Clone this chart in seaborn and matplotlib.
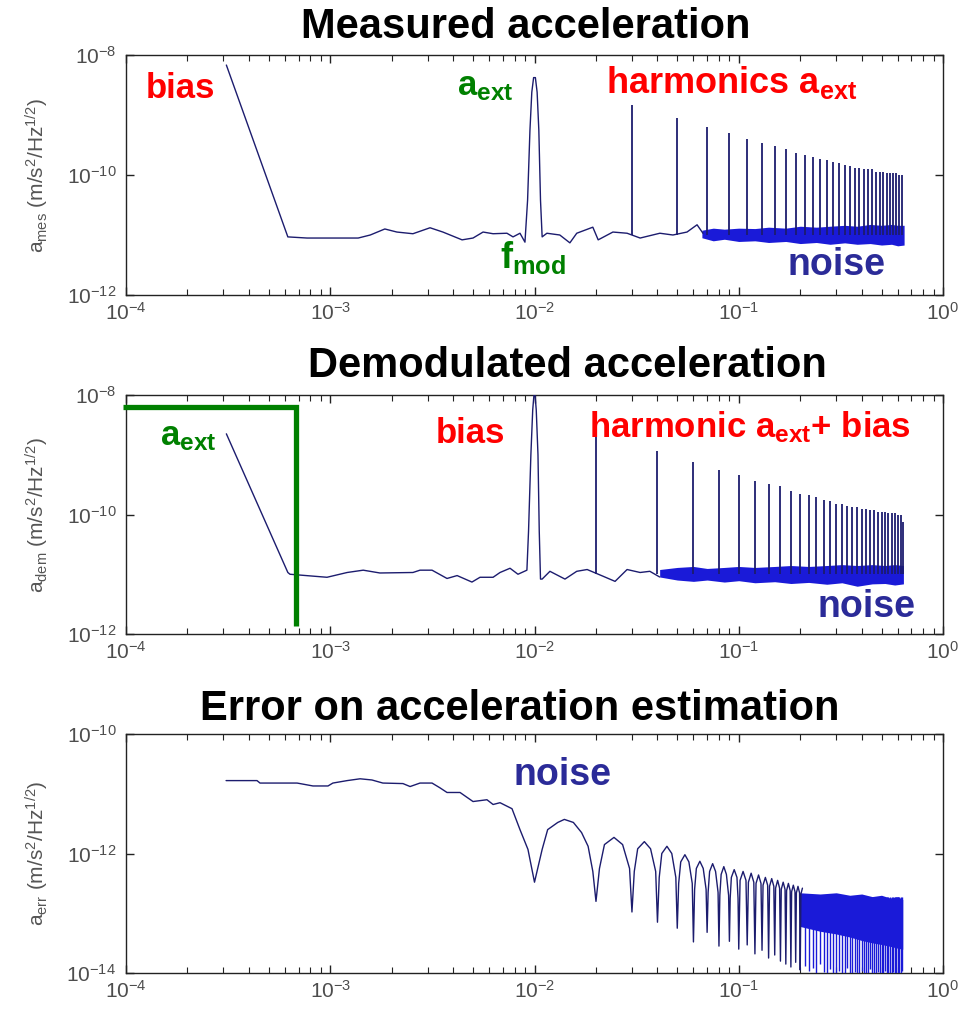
import numpy as np
import matplotlib
matplotlib.use("Agg")
import matplotlib.pyplot as plt
import seaborn as sns
from matplotlib.ticker import FixedLocator, LogLocator, NullLocator, LogFormatterSciNotation

# ---------------- data ----------------
x_ticks = [1e-4, 1e-3, 1e-2, 1e-1, 1e0]

# Panel 1: measured acceleration (noise line incl. f_mod peak)
mes_f = [3.1e-4, 6.2e-4, 7.7e-4, 1.37e-3, 1.57e-3, 1.85e-3, 2.12e-3, 2.54e-3, 3.08e-3, 3.56e-3,
         4.42e-3, 5.0e-3, 5.6e-3, 6.27e-3, 7.33e-3, 7.85e-3, 8.49e-3, 8.98e-3, 9.25e-3, 9.5e-3,
         9.7e-3, 9.9e-3, 1.01e-2, 1.03e-2, 1.05e-2, 1.07e-2, 1.09e-2, 1.15e-2, 1.33e-2, 1.49e-2,
         1.61e-2, 1.93e-2, 2.05e-2, 2.42e-2, 2.84e-2, 3.29e-2, 4.11e-2, 4.76e-2, 5.58e-2, 6.25e-2,
         6.68e-2]
mes_a = [6.8e-9, 9.3e-12, 8.9e-12, 8.9e-12, 1.0e-11, 1.26e-11, 1.12e-11, 1.05e-11, 1.32e-11, 1.12e-11,
         8.3e-12, 8.9e-12, 1.12e-11, 1.05e-11, 1.07e-11, 9.3e-12, 1.07e-11, 7.6e-12, 3.8e-11, 5.6e-10,
         2.4e-9, 4.2e-9, 4.2e-9, 2.4e-9, 5.6e-10, 3.8e-11, 9.3e-12, 1.07e-11, 1.0e-11, 7.4e-12,
         1.07e-11, 1.35e-11, 8.3e-12, 1.12e-11, 1.07e-11, 8.9e-12, 1.07e-11, 1.0e-11, 1.12e-11, 1.48e-11,
         1.07e-11]
mes_harm_f = [0.03, 0.05, 0.07, 0.09, 0.11, 0.13, 0.15, 0.17, 0.19, 0.21, 0.23, 0.25, 0.27, 0.29, 0.31,
              0.33, 0.35, 0.37, 0.39, 0.41, 0.43, 0.45, 0.47, 0.49, 0.51, 0.53, 0.55, 0.57, 0.59, 0.61, 0.63]
mes_harm_a = [1.48e-9, 8.9e-10, 6.3e-10, 5.0e-10, 4.0e-10, 3.4e-10, 3.0e-10, 2.7e-10, 2.35e-10, 2.15e-10,
              2.0e-10, 1.86e-10, 1.78e-10, 1.66e-10, 1.58e-10, 1.48e-10, 1.41e-10, 1.32e-10, 1.32e-10, 1.26e-10,
              1.26e-10, 1.26e-10, 1.12e-10, 1.12e-10, 1.12e-10, 1.1e-10, 1.1e-10, 1.07e-10, 1.07e-10, 1.0e-10,
              1.0e-10]
mes_floor = 1.0e-11
mes_band_f = [0.066, 0.075, 0.085, 0.10, 0.12, 0.14, 0.17, 0.20, 0.24, 0.28, 0.33, 0.38, 0.44, 0.50, 0.56, 0.60, 0.645]
mes_band_hi = [1.20e-11, 1.30e-11, 1.25e-11, 1.30e-11, 1.28e-11, 1.35e-11, 1.30e-11, 1.40e-11, 1.35e-11,
               1.40e-11, 1.45e-11, 1.40e-11, 1.50e-11, 1.45e-11, 1.50e-11, 1.45e-11, 1.45e-11]
mes_band_lo = [9.0e-12, 8.0e-12, 8.5e-12, 7.8e-12, 8.0e-12, 7.5e-12, 7.8e-12, 7.2e-12, 7.5e-12,
               7.0e-12, 7.4e-12, 7.0e-12, 7.2e-12, 6.8e-12, 7.0e-12, 6.6e-12, 6.8e-12]

# Panel 2: demodulated acceleration
dem_f = [3.1e-4, 6.2e-4, 6.35e-4, 8.23e-4, 9.64e-4, 1.21e-3, 1.45e-3, 1.75e-3, 2.54e-3, 2.75e-3,
         3.15e-3, 3.73e-3, 4.18e-3, 4.94e-3, 5.41e-3, 6.27e-3, 6.78e-3, 7.59e-3, 8.3e-3, 9.18e-3,
         9.35e-3, 9.6e-3, 9.8e-3, 1.0e-2, 1.02e-2, 1.04e-2, 1.055e-2, 1.07e-2, 1.09e-2, 1.19e-2,
         1.41e-2, 1.61e-2, 1.81e-2, 2.16e-2, 2.48e-2, 2.84e-2, 3.29e-2, 3.67e-2, 4.1e-2]
dem_a = [2.24e-9, 1.07e-11, 1.0e-11, 9.3e-12, 8.9e-12, 1.07e-11, 1.17e-11, 1.05e-11, 1.07e-11, 1.17e-11,
         1.17e-11, 8.5e-12, 9.5e-12, 7.4e-12, 8.9e-12, 8.9e-12, 1.07e-11, 1.26e-11, 1.0e-11, 1.17e-11,
         5.25e-11, 1.0e-9, 5.6e-9, 1.3e-8, 5.6e-9, 1.0e-9, 5.25e-11, 8.3e-12, 8.3e-12, 1.12e-11,
         8.3e-12, 1.12e-11, 1.2e-11, 9.3e-12, 7.6e-12, 1.2e-11, 1.07e-11, 1.12e-11, 9.0e-12]
dem_harm_f = [0.02, 0.04, 0.06, 0.08, 0.10, 0.12, 0.14, 0.16, 0.18, 0.20, 0.22, 0.24, 0.26, 0.28, 0.30, 0.32,
              0.34, 0.36, 0.38, 0.40, 0.42, 0.44, 0.46, 0.48, 0.50, 0.52, 0.54, 0.56, 0.58, 0.60, 0.62, 0.64]
dem_harm_a = [2.34e-9, 1.17e-9, 7.6e-10, 5.6e-10, 4.5e-10, 3.7e-10, 3.2e-10, 2.95e-10, 2.5e-10, 2.24e-10,
              2.1e-10, 2.0e-10, 1.78e-10, 1.66e-10, 1.51e-10, 1.48e-10, 1.41e-10, 1.35e-10, 1.32e-10, 1.26e-10,
              1.26e-10, 1.2e-10, 1.17e-10, 1.12e-10, 1.12e-10, 1.1e-10, 1.07e-10, 1.05e-10, 1.05e-10, 1.0e-10,
              1.0e-10, 7.4e-11]
dem_floor = 1.0e-11
dem_band_f = [0.041, 0.05, 0.06, 0.07, 0.085, 0.10, 0.12, 0.15, 0.18, 0.22, 0.27, 0.32, 0.38, 0.45, 0.52, 0.58, 0.64]
dem_band_hi = [1.2e-11, 1.3e-11, 1.35e-11, 1.25e-11, 1.3e-11, 1.35e-11, 1.3e-11, 1.35e-11, 1.4e-11,
               1.35e-11, 1.4e-11, 1.45e-11, 1.4e-11, 1.45e-11, 1.4e-11, 1.45e-11, 1.4e-11]
dem_band_lo = [9.0e-12, 8.0e-12, 7.6e-12, 8.0e-12, 7.4e-12, 7.8e-12, 7.2e-12, 7.5e-12, 7.0e-12,
               7.3e-12, 6.8e-12, 7.2e-12, 6.3e-12, 6.9e-12, 7.0e-12, 6.6e-12, 6.9e-12]
bracket_f = [9.7e-5, 6.8e-4, 6.8e-4]
bracket_a = [6.3e-9, 6.3e-9, 1.35e-12]

# Panel 3: error on acceleration estimation
err_f = [3.09e-4, 4.38e-4, 4.53e-4, 6.88e-4, 7.11e-4, 8.23e-4, 9.75e-4, 1.03e-3, 1.21e-3, 1.40e-3,
         1.60e-3, 1.81e-3, 2.27e-3, 2.46e-3, 2.75e-3, 3.15e-3, 3.44e-3, 3.73e-3, 4.32e-3, 5.0e-3,
         5.85e-3, 6.27e-3, 6.78e-3, 7.76e-3, 8.49e-3, 9.29e-3, 1.0e-2, 1.09e-2, 1.16e-2, 1.30e-2,
         1.40e-2, 1.55e-2, 1.70e-2, 1.83e-2, 1.93e-2, 2.0e-2,
         0.0208, 0.0220, 0.0245, 0.0270, 0.0292, 0.03,
         0.0308, 0.032, 0.0345, 0.037, 0.0392, 0.04,
         0.0408, 0.042, 0.0445, 0.047, 0.0492, 0.05,
         0.0508, 0.052, 0.0545, 0.057, 0.0592, 0.06,
         0.0608, 0.062, 0.0645, 0.067, 0.0692, 0.07,
         0.0708, 0.072, 0.0745, 0.077, 0.0792, 0.08,
         0.0808, 0.082, 0.0845, 0.087, 0.0892, 0.09,
         0.0908, 0.092, 0.095, 0.098, 0.0992, 0.10,
         0.1015, 0.105, 0.1085, 0.11,
         0.1115, 0.115, 0.1185, 0.12,
         0.1215, 0.125, 0.1285, 0.13,
         0.1315, 0.135, 0.1385, 0.14,
         0.1415, 0.145, 0.1485, 0.15,
         0.1515, 0.155, 0.1585, 0.16,
         0.1615, 0.165, 0.1685, 0.17,
         0.1715, 0.175, 0.1785, 0.18,
         0.1815, 0.185, 0.1885, 0.19,
         0.1915, 0.195, 0.1985, 0.20,
         0.2015, 0.205]
err_a = [1.66e-11, 1.66e-11, 1.51e-11, 1.51e-11, 1.48e-11, 1.35e-11, 1.35e-11, 1.51e-11, 1.66e-11, 1.78e-11,
         1.70e-11, 1.51e-11, 1.48e-11, 1.32e-11, 1.51e-11, 1.51e-11, 1.26e-11, 1.05e-11, 1.05e-11, 7.41e-12,
         7.94e-12, 6.61e-12, 7.08e-12, 5.62e-12, 2.51e-12, 1.17e-12, 3.31e-13, 1.17e-12, 2.51e-12, 3.31e-12,
         3.72e-12, 3.31e-12, 2.24e-12, 1.32e-12, 5.01e-13, 1.58e-13,
         5.62e-13, 1.41e-12, 1.86e-12, 1.41e-12, 5.62e-13, 1.05e-13,
         5.01e-13, 1.20e-12, 1.58e-12, 1.20e-12, 5.01e-13, 7.08e-14,
         3.98e-13, 1.0e-12, 1.32e-12, 1.0e-12, 3.98e-13, 5.62e-14,
         3.16e-13, 7.24e-13, 9.55e-13, 7.24e-13, 3.16e-13, 3.31e-14,
         2.51e-13, 5.62e-13, 7.41e-13, 5.62e-13, 2.51e-13, 4.79e-14,
         2.24e-13, 5.01e-13, 6.76e-13, 5.01e-13, 2.24e-13, 2.82e-14,
         2.0e-13, 4.47e-13, 6.03e-13, 4.47e-13, 2.0e-13, 3.39e-14,
         1.78e-13, 3.98e-13, 5.37e-13, 3.98e-13, 1.78e-13, 2.51e-14,
         3.55e-13, 5.01e-13, 3.55e-13, 2.95e-14,
         3.31e-13, 4.68e-13, 3.31e-13, 2.09e-14,
         3.16e-13, 4.37e-13, 3.16e-13, 2.40e-14,
         2.95e-13, 3.98e-13, 2.95e-13, 1.78e-14,
         2.82e-13, 3.80e-13, 2.82e-13, 2.0e-14,
         2.63e-13, 3.55e-13, 2.63e-13, 1.58e-14,
         2.51e-13, 3.31e-13, 2.51e-13, 1.41e-14,
         2.40e-13, 3.16e-13, 2.40e-13, 1.26e-14,
         2.29e-13, 2.95e-13, 2.29e-13, 1.51e-14,
         2.19e-13, 2.82e-13, 2.19e-13, 1.12e-14,
         2.09e-13, 2.63e-13]
err_dip_f = [0.21, 0.22, 0.23, 0.24, 0.25, 0.26, 0.27, 0.28, 0.29, 0.30, 0.31, 0.32, 0.33, 0.34, 0.35,
             0.36, 0.37, 0.38, 0.39, 0.40, 0.41, 0.42, 0.43, 0.44, 0.45, 0.46, 0.47, 0.48, 0.49, 0.50,
             0.51, 0.52, 0.53, 0.54, 0.55, 0.56, 0.57, 0.58, 0.59, 0.60, 0.61, 0.62, 0.63]
err_dip_a = [1.3e-14, 1.1e-14, 1.2e-14, 1.0e-14, 1.4e-14, 1.05e-14, 1.0e-14, 1.15e-14, 1.0e-14, 1.0e-14,
             1.1e-14, 1.0e-14, 1.0e-14, 1.2e-14, 1.0e-14, 1.0e-14, 1.05e-14, 1.0e-14, 1.0e-14, 1.1e-14,
             1.0e-14, 1.0e-14, 1.0e-14, 1.15e-14, 1.0e-14, 1.0e-14, 1.0e-14, 1.05e-14, 1.0e-14, 1.0e-14,
             1.0e-14, 1.1e-14, 1.0e-14, 1.0e-14, 1.0e-14, 1.0e-14, 1.05e-14, 1.0e-14, 1.0e-14, 1.0e-14,
             1.0e-14, 1.0e-14, 1.1e-14]
err_plateau = 1.9e-13
err_band_f = [0.20, 0.25, 0.30, 0.35, 0.40, 0.45, 0.50, 0.55, 0.60, 0.635]
err_band_hi = [2.2e-13, 2.1e-13, 2.2e-13, 2.0e-13, 2.1e-13, 1.9e-13, 2.0e-13, 1.8e-13, 1.9e-13, 1.7e-13]
err_band_lo = [6e-14, 5e-14, 4.5e-14, 4e-14, 3.5e-14, 3.2e-14, 3e-14, 2.8e-14, 2.6e-14, 2.5e-14]

# ---------------- style ----------------
sns.set_style("ticks")
plt.rcParams.update({
    "font.family": ["Liberation Sans", "DejaVu Sans"],
    "mathtext.fontset": "custom",
    "mathtext.rm": "Liberation Sans",
    "mathtext.it": "Liberation Sans:italic",
    "mathtext.bf": "Liberation Sans:bold",
    "mathtext.default": "regular",
})

RED = "#ff0000"
GREEN = "#008000"
NAVY_TXT = "#2b2b98"
LINE = "#1c1c6e"
FILL = "#1a1ad8"

W, H = 969, 1010
fig = plt.figure(figsize=(W / 100, H / 100), dpi=100)


def make_ax(top, bottom):
    return fig.add_axes([126 / W, 1 - bottom / H, 817 / W, (bottom - top) / H])


def style(ax, ylims, yticks, ylabel):
    ax.set_xscale("log")
    ax.set_yscale("log")
    ax.set_xlim(x_ticks[0], x_ticks[-1])
    ax.set_ylim(*ylims)
    ax.xaxis.set_major_locator(FixedLocator(x_ticks))
    ax.xaxis.set_minor_locator(LogLocator(base=10, subs=np.arange(2, 10), numticks=20))
    ax.xaxis.set_major_formatter(LogFormatterSciNotation())
    ax.yaxis.set_major_locator(FixedLocator(yticks))
    ax.yaxis.set_major_formatter(LogFormatterSciNotation())
    ax.yaxis.set_minor_locator(NullLocator())
    ax.tick_params(which="both", direction="in", top=True, right=True,
                   color="#222222", labelcolor="#4d4d4d", labelsize=15)
    ax.tick_params(which="major", length=6, width=1.0)
    ax.tick_params(which="minor", length=4, width=0.8)
    ax.tick_params(axis="y", pad=7)
    ax.tick_params(axis="x", pad=5)
    for s in ax.spines.values():
        s.set_visible(True)
        s.set_color("#222222")
        s.set_linewidth(1.0)
    ax.set_ylabel(ylabel, fontsize=15, color="#555555")
    ax.yaxis.set_label_coords(-0.092, 0.5)
    ax.set_facecolor("white")


def ftxt(x, y, s, **kw):
    fig.text(x / W, 1 - y / H, s, va="baseline", fontweight="bold", **kw)


# ---------------- panel 1 ----------------
ax1 = make_ax(55, 295)
ax1.fill_between(mes_band_f, mes_band_lo, mes_band_hi, color=FILL, lw=0, zorder=2)
sns.lineplot(x=mes_f, y=mes_a, ax=ax1, color=LINE, linewidth=1.0, estimator=None, sort=False, zorder=3)
ax1.vlines(mes_harm_f, mes_floor, mes_harm_a, color=LINE, lw=1.3, zorder=3)
style(ax1, (1e-12, 1e-8), [1e-12, 1e-10, 1e-8], r"a$_{mes}$ (m/s$^{2}$/Hz$^{1/2}$)")

# ---------------- panel 2 ----------------
ax2 = make_ax(395, 634)
ax2.fill_between(dem_band_f, dem_band_lo, dem_band_hi, color=FILL, lw=0, zorder=2)
sns.lineplot(x=dem_f, y=dem_a, ax=ax2, color=LINE, linewidth=1.0, estimator=None, sort=False, zorder=3)
ax2.vlines(dem_harm_f, dem_floor, dem_harm_a, color=LINE, lw=1.3, zorder=3)
ax2.plot(bracket_f, bracket_a, color=GREEN, lw=3.8, clip_on=False, solid_capstyle="butt",
         solid_joinstyle="miter", zorder=5)
style(ax2, (1e-12, 1e-8), [1e-12, 1e-10, 1e-8], r"a$_{dem}$ (m/s$^{2}$/Hz$^{1/2}$)")

# ---------------- panel 3 ----------------
ax3 = make_ax(734, 973)
ax3.fill_between(err_band_f, err_band_lo, err_band_hi, color=FILL, lw=0, zorder=2)
sns.lineplot(x=err_f, y=err_a, ax=ax3, color=LINE, linewidth=1.0, estimator=None, sort=False, zorder=3)
ax3.vlines(err_dip_f, err_dip_a, err_plateau, color=FILL, lw=1.0, zorder=3)
style(ax3, (1e-14, 1e-10), [1e-14, 1e-12, 1e-10], r"a$_{err}$ (m/s$^{2}$/Hz$^{1/2}$)")

# ---------------- titles ----------------
fig.text(526 / W, 1 - 38 / H, "Measured acceleration", ha="center", va="baseline",
         fontsize=30, fontweight="bold", color="black")
fig.text(567 / W, 1 - 377 / H, "Demodulated acceleration", ha="center", va="baseline",
         fontsize=30, fontweight="bold", color="black")
fig.text(520 / W, 1 - 720 / H, "Error on acceleration estimation", ha="center", va="baseline",
         fontsize=30, fontweight="bold", color="black")

# ---------------- annotations ----------------
ftxt(146, 98, "bias", color=RED, fontsize=25)
ftxt(457, 95, r"a$_{\mathbf{ext}}$", color=GREEN, fontsize=25)
ftxt(606, 93, r"harmonics a$_{\mathbf{ext}}$", color=RED, fontsize=26)
ftxt(500, 268, r"f$_{\mathbf{mod}}$", color=GREEN, fontsize=26)
ftxt(788, 275, "noise", color=NAVY_TXT, fontsize=27)

ftxt(160, 445, r"a$_{\mathbf{ext}}$", color=GREEN, fontsize=25)
ftxt(436, 443, "bias", color=RED, fontsize=25)
ftxt(589, 437, r"harmonic a$_{\mathbf{ext}}$+ bias", color=RED, fontsize=25)
ftxt(818, 617, "noise", color=NAVY_TXT, fontsize=27)

ftxt(513, 785, "noise", color=NAVY_TXT, fontsize=27)

fig.savefig("out.png", dpi=100)
